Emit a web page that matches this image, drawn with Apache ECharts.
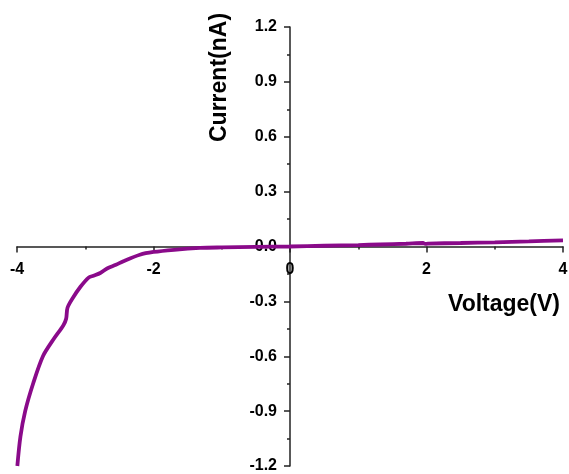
<!DOCTYPE html>
<html>
<head>
<meta charset="utf-8">
<script src="https://cdn.jsdelivr.net/npm/echarts@6/dist/echarts.min.js"></script>
<style>
  html, body { margin: 0; padding: 0; background: #fff; }
  #chart { width: 569px; height: 474px; }
</style>
</head>
<body>
<div id="chart"></div>
<script>
// I-V curve
const voltage = [-3.995, -3.95, -3.88, -3.76, -3.62, -3.47, -3.32, -3.28, -3.26, -3.18, -3.07, -2.95, -2.88, -2.78, -2.68, -2.55, -2.44, -2.2, -2.0, -1.7, -1.32, -1.0, -0.5, 0, 0.5, 1.0, 1.32, 1.7, 1.95, 1.98, 2.02, 2.5, 3.0, 3.5, 4.0];
const current = [-1.2, -1.04, -0.9, -0.745, -0.6, -0.51, -0.43, -0.395, -0.335, -0.28, -0.22, -0.17, -0.16, -0.145, -0.12, -0.1, -0.08, -0.045, -0.03, -0.018, -0.008, -0.005, -0.002, 0, 0.004, 0.008, 0.011, 0.015, 0.019, 0.014, 0.016, 0.019, 0.023, 0.028, 0.034];
const xTicks = { min: -4, max: 4, step: 2 };
const yTicks = { min: -1.2, max: 1.2, step: 0.3 };

const W = 569, H = 474;
const grid = { left: 17, right: 6, top: 27, bottom: 8 };
// axes cross at zero, so shift them into the middle of the plot
const xOffset = -(H - grid.top - grid.bottom) * (0 - yTicks.min) / (yTicks.max - yTicks.min);
const yOffset = -(W - grid.left - grid.right) * (0 - xTicks.min) / (xTicks.max - xTicks.min);

const chart = echarts.init(document.getElementById('chart'));
const labelFont = { color: '#000', fontFamily: 'Liberation Sans, Arial', fontWeight: 'bold', fontSize: 16 };
const line = { color: '#222', width: 1.5 };

chart.setOption({
  animation: false,
  grid: Object.assign({ containLabel: false, outerBoundsMode: 'none' }, grid),
  xAxis: {
    type: 'value', position: 'bottom', offset: xOffset,
    min: xTicks.min, max: xTicks.max, interval: xTicks.step,
    axisLine: { onZero: false, lineStyle: line },
    axisTick: { show: true, length: 6, lineStyle: line },
    minorTick: { show: true, splitNumber: 2, length: 3, lineStyle: line },
    splitLine: { show: false },
    axisLabel: Object.assign({ margin: 15, formatter: v => String(v) }, labelFont)
  },
  yAxis: {
    type: 'value', position: 'left', offset: yOffset,
    min: yTicks.min, max: yTicks.max, interval: yTicks.step,
    axisLine: { onZero: false, lineStyle: line },
    axisTick: { show: true, length: 6, lineStyle: line },
    minorTick: { show: true, splitNumber: 2, length: 3, lineStyle: line },
    splitLine: { show: false },
    axisLabel: Object.assign({ margin: 13, formatter: v => v.toFixed(1) }, labelFont)
  },
  graphic: [
    {
      type: 'text', left: 448, top: 293,
      style: { text: 'Voltage(V)', font: 'bold 23px "Liberation Sans", Arial', fill: '#000' }
    },
    {
      type: 'text', x: 208, y: 142, rotation: Math.PI / 2,
      style: { text: 'Current(nA)', font: 'bold 23px "Liberation Sans", Arial', fill: '#000' }
    }
  ],
  series: [{
    type: 'line',
    data: voltage.map((v, i) => [v, current[i]]),
    showSymbol: false,
    smooth: 0.3,
    lineStyle: { color: '#8a0a8a', width: 3.8 },
    z: 3
  }]
});
</script>
</body>
</html>
